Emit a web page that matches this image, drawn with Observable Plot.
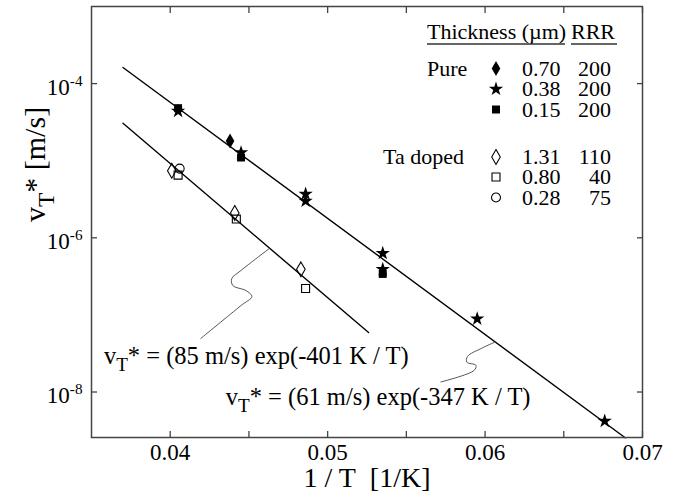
<!DOCTYPE html>
<html><head><meta charset="utf-8">
<script src="https://cdn.jsdelivr.net/npm/d3@7"></script>
<script src="https://cdn.jsdelivr.net/npm/@observablehq/plot@0.6"></script>
<style>
html,body{margin:0;padding:0;background:#fff;}
#chart{position:relative;width:690px;height:501px;}
#chart svg{display:block}
</style></head><body><div id="chart"></div>
<script>
const FONT = "'Liberation Serif','Times New Roman',serif";

// Pure films (filled symbols)
const pure070X = [0.0438];
const pure070Y = [1.8e-5];
const pure038X = [0.0405, 0.0445, 0.0486, 0.0486, 0.0535, 0.0535, 0.0595, 0.0676];
const pure038Y = [4.4e-5, 1.27e-5, 3.7e-6, 3.0e-6, 6.3e-7, 3.9e-7, 8.9e-8, 4.2e-9];
const pure015X = [0.0405, 0.0445, 0.0535];
const pure015Y = [4.8e-5, 1.1e-5, 3.4e-7];
// Ta doped films (open symbols)
const ta131X = [0.0401, 0.0441, 0.0483];
const ta131Y = [7.4e-6, 2.1e-6, 3.9e-7];
const ta080X = [0.0405, 0.0442, 0.0486];
const ta080Y = [6.5e-6, 1.75e-6, 2.2e-7];
const ta028X = [0.0406];
const ta028Y = [7.9e-6];

// fitted lines (end points)
const fitPureX = [0.037, 0.0689];
const fitPureY = [1.62e-4, 2.55e-9];
const fitTaX = [0.037, 0.0526];
const fitTaY = [3.06e-5, 5.9e-8];

// leader curves from labels to lines
const leaderTaX = [0.04194, 0.04449, 0.04519, 0.04481, 0.04398, 0.04391, 0.04449, 0.04627];
const leaderTaY = [4.95e-8, 1.32e-7, 1.73e-7, 2.07e-7, 2.40e-7, 2.96e-7, 3.76e-7, 7.2e-7];
const leaderPureX = [0.05719, 0.05931, 0.05942, 0.05884, 0.05889, 0.05973, 0.06058];
const leaderPureY = [1.35e-8, 1.91e-8, 2.22e-8, 2.44e-8, 2.90e-8, 3.65e-8, 4.4e-8];

const annotationText = ["vT* = (85 m/s) exp(-401 K / T)", "vT* = (61 m/s) exp(-347 K / T)"];
const annotationX = [0.03579, 0.04353];
const annotationY = [2.88e-8, 8.47e-9];

const xTicks = [0.04, 0.05, 0.06, 0.07];
const xMinorTicks = [0.045, 0.055, 0.065];
const yTicks = [1e-4, 1e-6, 1e-8];
const yTickExp = ["-4", "-6", "-8"];

const legendGroups = ["Pure", "", "", "Ta doped", "", ""];
const legendThickness = ["0.70", "0.38", "0.15", "1.31", "0.80", "0.28"];
const legendRRR = ["200", "200", "200", "110", "40", "75"];
const legendSymbols = ["diamond", "star", "square", "diamond", "square", "circle"];
const legendFilled = [true, true, true, false, false, false];

const pts = (X, Y) => X.map((x, i) => ({x, y: Y[i]}));
const filled = (X, Y, symbol) => Plot.dot(pts(X, Y), {x: "x", y: "y", symbol, r: 4.5, fill: "black", stroke: "none"});
const open = (X, Y, symbol) => Plot.dot(pts(X, Y), {x: "x", y: "y", symbol, r: 4.5, fill: "none", stroke: "black", strokeWidth: 1.1});
const axisColor = "#444";

const svg = Plot.plot({
  width: 690, height: 501,
  marginLeft: 91, marginRight: 48, marginTop: 6, marginBottom: 64,
  x: {domain: [0.035, 0.07]},
  y: {type: "log", domain: [10 ** -8.59, 1e-3]},
  style: {fontFamily: FONT, background: "white", color: "black"},
  marks: [
    Plot.line(pts(fitPureX, fitPureY), {x: "x", y: "y", stroke: "black", strokeWidth: 1.4}),
    Plot.line(pts(fitTaX, fitTaY), {x: "x", y: "y", stroke: "black", strokeWidth: 1.4}),
    Plot.line(pts(leaderTaX, leaderTaY), {x: "x", y: "y", stroke: "#555", strokeWidth: 1, curve: "catmull-rom"}),
    Plot.line(pts(leaderPureX, leaderPureY), {x: "x", y: "y", stroke: "#555", strokeWidth: 1, curve: "catmull-rom"}),
    open(ta131X, ta131Y, "diamond"),
    open(ta080X, ta080Y, "square"),
    open(ta028X, ta028Y, "circle"),
    filled(pure015X, pure015Y, "square"),
    filled(pure070X, pure070Y, "diamond"),
    filled(pure038X, pure038Y, "star"),
    Plot.text(annotationText, {x: (d, i) => annotationX[i], y: (d, i) => annotationY[i], text: d => d, textAnchor: "start", fontSize: 24.5, fill: "black"}),
    Plot.frame({stroke: axisColor, strokeWidth: 1.5}),
    Plot.axisX({ticks: xTicks, tickSize: 0, tickPadding: 6, tickFormat: d3.format(".2f"), fontSize: 23, label: null}),
    Plot.axisX({ticks: [...xTicks, ...xMinorTicks], tickSize: -6, tickFormat: () => "", label: null, stroke: axisColor, strokeWidth: 1.3}),
    Plot.axisX({anchor: "top", ticks: [...xTicks, ...xMinorTicks], tickSize: -6, tickFormat: () => "", label: null, stroke: axisColor, strokeWidth: 1.3}),
    Plot.axisY({ticks: yTicks, tickSize: 0, tickPadding: 9, dy: 4, tickFormat: d => "10^" + yTickExp[yTicks.indexOf(d)], fontSize: 23, label: null}),
    Plot.axisY({ticks: yTicks, tickSize: -6, tickFormat: () => "", label: null, stroke: axisColor, strokeWidth: 1.3}),
    Plot.axisY({anchor: "right", ticks: yTicks, tickSize: -6, tickFormat: () => "", label: null, stroke: axisColor, strokeWidth: 1.3}),
    Plot.text(["1 / T\u00a0\u00a0[1/K]"], {frameAnchor: "bottom", dy: 49, fontSize: 28, fill: "black"}),
    Plot.text(["vT* [m/s]"], {frameAnchor: "left", dx: -56, rotate: -90, fontSize: 30, fill: "black"})
  ]
});

// rich text: subscripts and superscripts
d3.select(svg).selectAll("text").each(function() {
  const t = this.textContent;
  const sel = d3.select(this);
  let fs = parseFloat(sel.attr("font-size"));
  if (!fs) { const p = this.closest("[font-size]"); fs = p ? parseFloat(p.getAttribute("font-size")) : 22; }
  if (t.startsWith("vT*")) {
    sel.text(null);
    sel.append("tspan").text("v");
    sel.append("tspan").attr("dy", fs * 0.28).attr("font-size", fs * 0.78).text("T");
    sel.append("tspan").attr("dy", -fs * 0.28).text(t.slice(2));
  } else if (t.startsWith("10^")) {
    sel.text(null);
    sel.append("tspan").text("10");
    sel.append("tspan").attr("dy", -fs * 0.4).attr("font-size", fs * 0.66).text(t.slice(3));
  }
});

// legend (table at top right)
const root = d3.select(svg).append("g").attr("fill", "black").attr("text-anchor", "start");
const legFont = 22;
const txt = (x, y, s, anchor = "start", dy = null) => root.append("text")
  .attr("x", x).attr("y", y).attr("dy", dy).attr("text-anchor", anchor)
  .style("font-family", FONT).style("font-size", legFont + "px").text(s);
txt(427, 39, "Thickness (\u00b5m)");
txt(571, 39, "RRR");
root.append("line").attr("x1", 427).attr("x2", 565).attr("y1", 44).attr("y2", 44).attr("stroke", "#333").attr("stroke-width", 1.3);
root.append("line").attr("x1", 571).attr("x2", 617).attr("y1", 44).attr("y2", 44).attr("stroke", "#333").attr("stroke-width", 1.3);
const rowY = [68.5, 89, 109.5, 157, 177, 197.5];
const symMap = {diamond: d3.symbolDiamond, star: d3.symbolStar, square: d3.symbolSquare, circle: d3.symbolCircle};
legendThickness.forEach((th, i) => {
  const y = rowY[i];
  if (legendGroups[i]) txt(legendGroups[i] === "Pure" ? 427 : 383, y, legendGroups[i], "start", "0.32em");
  root.append("path")
    .attr("transform", `translate(496,${y})`)
    .attr("d", d3.symbol(symMap[legendSymbols[i]], Math.PI * 4.5 * 4.5)())
    .attr("fill", legendFilled[i] ? "black" : "none")
    .attr("stroke", legendFilled[i] ? "none" : "black")
    .attr("stroke-width", 1.1);
  txt(522, y, th, "start", "0.32em");
  txt(611, y, legendRRR[i], "end", "0.32em");
});

document.getElementById("chart").appendChild(svg);
</script></body></html>
